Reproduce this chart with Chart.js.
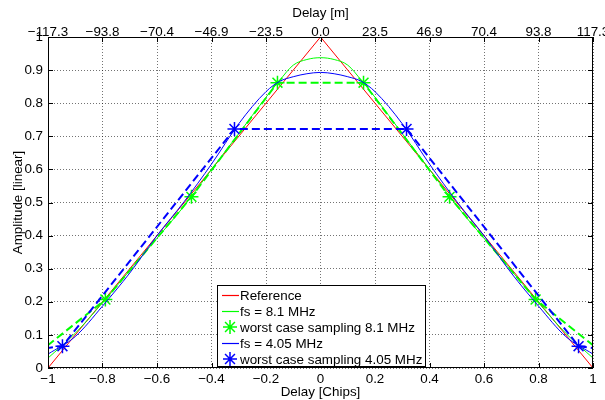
<!DOCTYPE html>
<html>
<head>
<meta charset="utf-8">
<script src="https://cdn.jsdelivr.net/npm/chart.js@4/dist/chart.umd.min.js"></script>
<style>
  body { margin: 0; background: #fff; }
  canvas { display: block; }
</style>
</head>
<body>
<canvas id="corr-chart" width="605" height="400"></canvas>
<script>
// tick positions and labels
const xTickValues = [-1, -0.8, -0.6, -0.4, -0.2, 0, 0.2, 0.4, 0.6, 0.8, 1];
const xTickLabels = ['\u22121', '\u22120.8', '\u22120.6', '\u22120.4', '\u22120.2', '0', '0.2', '0.4', '0.6', '0.8', '1'];
const topTickLabels = ['\u2212117.3', '\u221293.8', '\u221270.4', '\u221246.9', '\u221223.5', '0.0', '23.5', '46.9', '70.4', '93.8', '117.3'];
const yTickValues = [0, 0.1, 0.2, 0.3, 0.4, 0.5, 0.6, 0.7, 0.8, 0.9, 1];
const yTickLabels = ['0', '0.1', '0.2', '0.3', '0.4', '0.5', '0.6', '0.7', '0.8', '0.9', '1'];

// ideal triangle
const refX = [-1, 0, 1];
const refY = [0, 1, 0];

// filtered correlation curves
const curveX = [-1, -0.9, -0.8, -0.7, -0.6, -0.5, -0.4, -0.3, -0.2, -0.15, -0.1, -0.05, 0,
                0.05, 0.1, 0.15, 0.2, 0.3, 0.4, 0.5, 0.6, 0.7, 0.8, 0.9, 1];
const fs81Y = [0.03, 0.105, 0.197, 0.295, 0.392, 0.49, 0.6, 0.708, 0.818, 0.869, 0.915, 0.932, 0.9375,
               0.932, 0.915, 0.869, 0.818, 0.708, 0.6, 0.49, 0.392, 0.295, 0.197, 0.105, 0.03];
const fs405Y = [0.042, 0.095, 0.187, 0.287, 0.4, 0.503, 0.616, 0.738, 0.835, 0.866, 0.88, 0.889, 0.893,
                0.889, 0.88, 0.866, 0.835, 0.738, 0.616, 0.503, 0.4, 0.287, 0.187, 0.095, 0.042];

// worst case sample points
const wc81X = [-1.105, -0.7894, -0.4736, -0.1579, 0.1579, 0.4736, 0.7894, 1.105];
const wc81Y = [0, 0.207, 0.517, 0.862, 0.862, 0.517, 0.207, 0];
const wc405X = [-1.579, -0.947, -0.3157, 0.3157, 0.947, 1.579];
const wc405Y = [0, 0.066, 0.722, 0.722, 0.066, 0];

const RED = '#ff0000';
const GREEN = '#00ff00';
const BLUE = '#0000ff';
const FONT = '"Liberation Sans", Arial, sans-serif';
const FONT_SIZE = 13.4;

function toPoints(xs, ys) {
  return xs.map((x, i) => ({ x: x, y: ys[i] }));
}
function inRange(pts) {
  return pts.filter(p => p.x >= -1 && p.x <= 1);
}

// box + inward ticks, like matlab axes
const boxPlugin = {
  id: 'box',
  afterDatasetsDraw(chart) {
    const { ctx, chartArea: a, scales } = chart;
    ctx.save();
    ctx.strokeStyle = '#000';
    ctx.lineWidth = 1;
    ctx.beginPath();
    xTickValues.forEach(v => {
      const px = Math.round(scales.x.getPixelForValue(v)) + 0.5;
      ctx.moveTo(px, a.bottom); ctx.lineTo(px, a.bottom - 5);
      ctx.moveTo(px, a.top); ctx.lineTo(px, a.top + 5);
    });
    yTickValues.forEach(v => {
      const py = Math.round(scales.y.getPixelForValue(v)) + 0.5;
      ctx.moveTo(a.left, py); ctx.lineTo(a.left + 5, py);
      ctx.moveTo(a.right, py); ctx.lineTo(a.right - 5, py);
    });
    ctx.stroke();
    ctx.strokeRect(Math.round(a.left) + 0.5, Math.round(a.top) + 0.5,
                   Math.round(a.right - a.left) - 1, Math.round(a.bottom - a.top) - 1);
    ctx.restore();
  }
};

function drawStar(ctx, x, y, r) {
  const d = r * Math.SQRT1_2;
  ctx.beginPath();
  ctx.moveTo(x - r, y); ctx.lineTo(x + r, y);
  ctx.moveTo(x, y - r); ctx.lineTo(x, y + r);
  ctx.moveTo(x - d, y - d); ctx.lineTo(x + d, y + d);
  ctx.moveTo(x - d, y + d); ctx.lineTo(x + d, y - d);
  ctx.stroke();
}

// legend drawn inside the axes, bottom centre
const legendPlugin = {
  id: 'insideLegend',
  afterDraw(chart) {
    const { ctx, chartArea: a } = chart;
    const rows = chart.data.datasets.filter(d => d.inLegend)
      .sort((p, q) => p.legendIdx - q.legendIdx);
    ctx.save();
    ctx.font = FONT_SIZE + 'px ' + FONT;
    const maxW = Math.max(...rows.map(r => ctx.measureText(r.label).width));
    const boxW = Math.round(23 + maxW + 3);
    const boxH = rows.length * 16 + 1;
    const x0 = Math.round((a.left + a.right) / 2 - boxW / 2);
    const y0 = Math.round(a.bottom - 2 - boxH);
    ctx.fillStyle = '#fff';
    ctx.fillRect(x0, y0, boxW, boxH);
    ctx.strokeStyle = '#000';
    ctx.lineWidth = 1;
    ctx.strokeRect(x0 + 0.5, y0 + 0.5, boxW, boxH);
    rows.forEach((ds, i) => {
      const cy = y0 + 10 + i * 16;
      ctx.setLineDash([]);
      ctx.strokeStyle = ds.legendColor;
      if (ds.showLine === false) {
        ctx.lineWidth = 1.5;
        drawStar(ctx, x0 + 13, cy, 7);
      } else {
        ctx.lineWidth = 1.2;
        ctx.beginPath();
        ctx.moveTo(x0 + 5, cy + 0.5);
        ctx.lineTo(x0 + 22, cy + 0.5);
        ctx.stroke();
      }
      ctx.fillStyle = '#000';
      ctx.textBaseline = 'middle';
      ctx.textAlign = 'left';
      ctx.fillText(ds.label, x0 + 23, cy + 1);
    });
    ctx.restore();
  }
};

Chart.defaults.font.family = FONT;
Chart.defaults.font.size = FONT_SIZE;
Chart.defaults.color = '#000';

const gridStyle = { color: 'rgba(0,0,0,0.55)', lineWidth: 1, drawTicks: false };
const gridBorder = { display: false, dash: [1, 2] };

const ctx = document.getElementById('corr-chart').getContext('2d');
new Chart(ctx, {
  type: 'line',
  data: {
    datasets: [
      { label: 'worst case sampling 4.05 MHz', data: inRange(toPoints(wc405X, wc405Y)), showLine: false,
        borderColor: BLUE, backgroundColor: BLUE, pointStyle: 'star', pointRadius: 7,
        pointBorderWidth: 1.5, pointBorderColor: BLUE, inLegend: true, legendColor: BLUE, order: 0, legendIdx: 4 },
      { label: 'wc 4.05 line', data: toPoints(wc405X, wc405Y), borderColor: BLUE, borderWidth: 2,
        borderDash: [8, 4], pointRadius: 0, tension: 0, order: 1 },
      { label: 'fs = 4.05 MHz', data: toPoints(curveX, fs405Y), borderColor: BLUE, borderWidth: 1,
        pointRadius: 0, cubicInterpolationMode: 'monotone', inLegend: true, legendColor: BLUE, order: 2, legendIdx: 3 },
      { label: 'worst case sampling 8.1 MHz', data: inRange(toPoints(wc81X, wc81Y)), showLine: false,
        borderColor: GREEN, backgroundColor: GREEN, pointStyle: 'star', pointRadius: 7,
        pointBorderWidth: 1.5, pointBorderColor: GREEN, inLegend: true, legendColor: GREEN, order: 3, legendIdx: 2 },
      { label: 'wc 8.1 line', data: toPoints(wc81X, wc81Y), borderColor: GREEN, borderWidth: 2,
        borderDash: [8, 4], pointRadius: 0, tension: 0, order: 4 },
      { label: 'fs = 8.1 MHz', data: toPoints(curveX, fs81Y), borderColor: GREEN, borderWidth: 1,
        pointRadius: 0, cubicInterpolationMode: 'monotone', inLegend: true, legendColor: GREEN, order: 5, legendIdx: 1 },
      { label: 'Reference', data: toPoints(refX, refY), borderColor: RED, borderWidth: 1,
        pointRadius: 0, tension: 0, inLegend: true, legendColor: RED, order: 6, legendIdx: 0 }
    ]
  },
  options: {
    responsive: false,
    animation: false,
    devicePixelRatio: 1,
    layout: { padding: { left: 0, right: 12, top: 0, bottom: 0 } },
    plugins: { legend: { display: false }, tooltip: { enabled: false } },
    scales: {
      x: {
        type: 'linear', position: 'bottom', min: -1, max: 1,
        afterBuildTicks: s => { s.ticks = xTickValues.map(v => ({ value: v })); },
        afterFit: s => { s.height = 32; s.paddingLeft = 0; s.paddingRight = 0; },
        ticks: { autoSkip: false, maxRotation: 0, padding: 3, callback: (v, i) => xTickLabels[i] },
        grid: gridStyle, border: gridBorder,
        title: { display: true, text: 'Delay [Chips]', padding: { top: 0, bottom: 0 } }
      },
      x2: {
        type: 'linear', position: 'top', min: -1, max: 1,
        afterBuildTicks: s => { s.ticks = xTickValues.map(v => ({ value: v })); },
        afterFit: s => { s.height = 37; s.paddingLeft = 0; s.paddingRight = 0; },
        ticks: { autoSkip: false, maxRotation: 0, padding: -3, callback: (v, i) => topTickLabels[i] },
        grid: { display: false, drawTicks: false }, border: { display: false },
        title: { display: true, text: 'Delay [m]', padding: { top: 5, bottom: 0 } }
      },
      y: {
        type: 'linear', position: 'left', min: 0, max: 1,
        afterBuildTicks: s => { s.ticks = yTickValues.map(v => ({ value: v })); },
        afterFit: s => { s.width = 48; s.paddingTop = 0; s.paddingBottom = 0; },
        ticks: { autoSkip: false, padding: 5, callback: (v, i) => yTickLabels[i] },
        grid: gridStyle, border: gridBorder,
        title: { display: true, text: 'Amplitude [linear]', padding: { top: 10, bottom: 0 } }
      }
    }
  },
  plugins: [boxPlugin, legendPlugin]
});
</script>
</body>
</html>
